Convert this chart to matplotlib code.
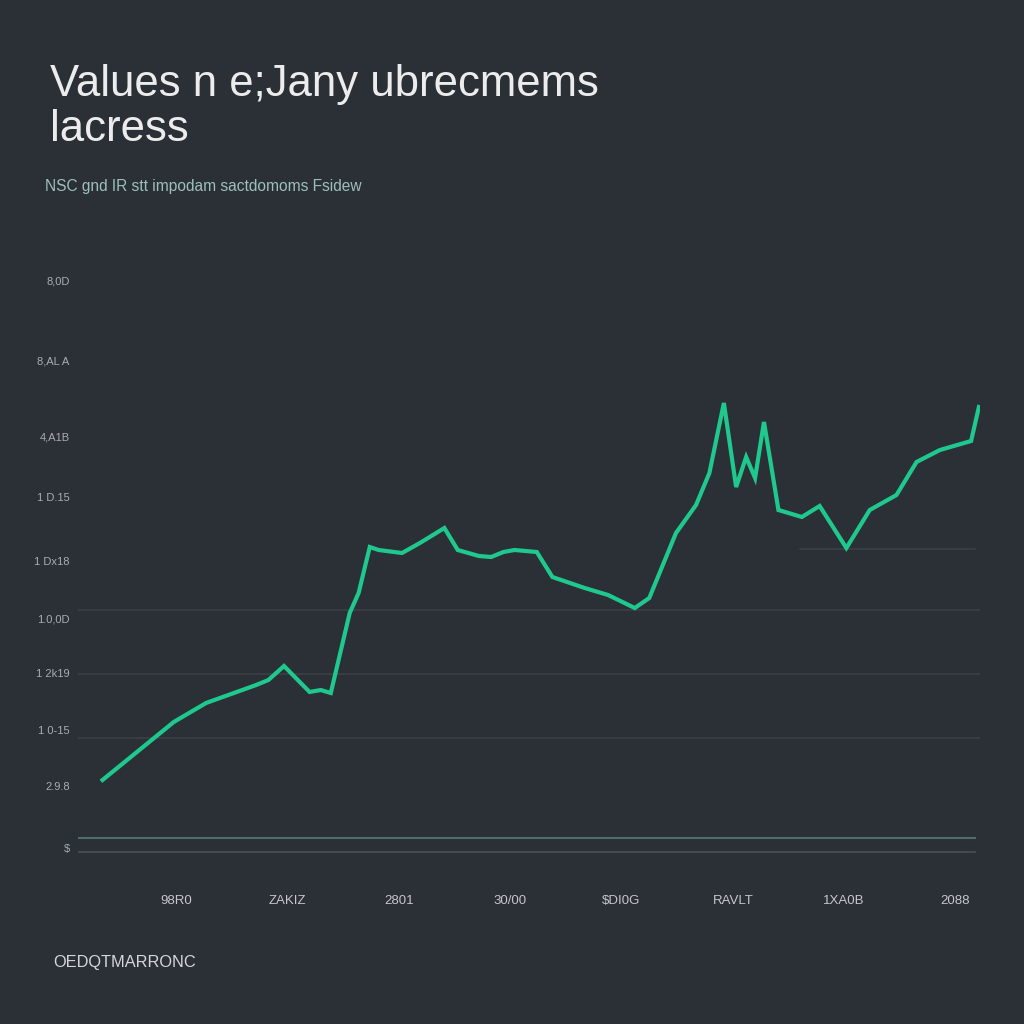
import matplotlib
matplotlib.use("Agg")
from matplotlib import pyplot as plt

plt.rcParams['font.family'] = ['Liberation Sans', 'DejaVu Sans']

# data
x = [-0.66, -0.02, 0.27, 0.72, 0.83, 0.97, 1.20, 1.30, 1.39, 1.56, 1.64, 1.74,
     1.82, 2.03, 2.19, 2.41, 2.53, 2.72, 2.83, 2.94, 3.04, 3.24, 3.38, 3.67,
     3.88, 4.12, 4.25, 4.49, 4.67, 4.79, 4.92, 5.03, 5.12, 5.20, 5.28, 5.41,
     5.62, 5.78, 6.02, 6.23, 6.47, 6.65, 6.86, 7.14, 7.21]
valores = [80, 138, 157, 175, 180, 194, 168, 170, 167, 247, 267, 313,
           310, 307, 317, 332, 310, 304, 303, 308, 310, 308, 283, 272,
           265, 252, 262, 327, 355, 387, 457, 373, 403, 382, 438, 350,
           343, 354, 312, 350, 365, 398, 410, 419, 453]

y_ticks = [579, 499, 424, 363, 299, 242, 187, 130, 74, 12]
y_labels = ["8,0D", "8,AL A", "4,A1B", "1 D.15", "1 Dx18", "1.0,0D",
            "1 2k19", "1 0-15", "2.9.8", "$"]
x_ticks = [0, 1, 2, 3, 4, 5, 6, 7]
x_labels = ["98R0", "ZAKIZ", "2801", "30/00", "$DI0G", "RAVLT", "1XA0B", "2088"]
grade = [250, 186, 122]

bg = '#2b2f36'
verde = '#1fc98e'

fig = plt.figure(figsize=(10.24, 10.24), dpi=100, facecolor=bg)
ax = fig.add_axes([78/1024, 1 - 860/1024, 902/1024, 600/1024])
ax.set_facecolor(bg)

for g in grade:
    ax.axhline(g, color='#3a4044', lw=1.2, zorder=1)
ax.axhline(311, xmin=0.8, xmax=0.995, color='#3a4044', lw=1.2, zorder=1)
ax.axhline(22, xmin=0, xmax=0.995, color='#4e6e68', lw=1.5, zorder=1)
ax.axhline(8, xmin=0, xmax=0.995, color='#4a5054', lw=1.2, zorder=1)

ax.plot(x, valores, color=verde, lw=3.0, solid_joinstyle='miter', zorder=3)

ax.set_xlim(-0.88, 7.22)
ax.set_ylim(0, 600)
ax.set_yticks(y_ticks)
ax.set_yticklabels(y_labels)
ax.set_xticks(x_ticks)
ax.set_xticklabels(x_labels)
ax.tick_params(axis='y', length=0, pad=6, labelsize=8, labelcolor='#a9adb2')
ax.tick_params(axis='x', length=0, pad=25, labelsize=9.5, labelcolor='#c4c7cb')
for s in ax.spines.values():
    s.set_visible(False)

fig.text(50/1024, 1 - 64/1024, "Values n e;Jany ubrecmems\nlacress",
         color='#ececec', fontsize=31.5, va='top', ha='left', linespacing=1.12)
fig.text(45/1024, 1 - 187/1024, "NSC gnd IR stt impodam sactdomoms Fsidew",
         color='#9cc0ba', fontsize=11.2, va='center', ha='left')
fig.text(53/1024, 1 - 962/1024, "OEDQTMARRONC",
         color='#d4d7da', fontsize=11.8, va='center', ha='left')

fig.savefig("out.png", dpi=100, facecolor=bg)
